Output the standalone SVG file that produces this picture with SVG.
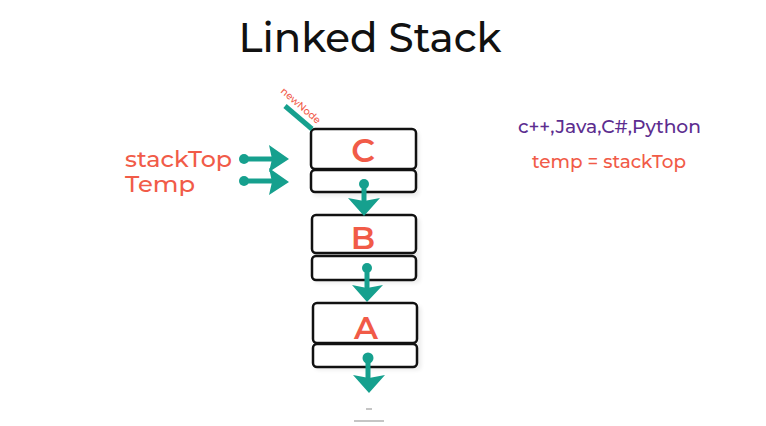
<svg xmlns="http://www.w3.org/2000/svg" width="766" height="426" viewBox="0 0 766 426">
<style>
.box{fill:#fff;stroke:#111;stroke-width:2.5}
.shadow{fill:#000;opacity:0.08}
.lbl{font-family:"Montserrat","Open Sans","Liberation Sans",sans-serif;fill:#f15b48;font-weight:500}
.big{font-weight:600}
.tl{fill:#16a08e}
.ts{stroke:#16a08e;stroke-width:5;fill:none}
</style>
<defs>
<filter id="sh" x="-10%" y="-10%" width="130%" height="140%"><feGaussianBlur stdDeviation="2"/></filter>
</defs>
<rect width="766" height="426" fill="#fff"/>
<text x="370" y="52" text-anchor="middle" font-family="Montserrat,'Open Sans','Liberation Sans',sans-serif" font-size="40" font-weight="500" fill="#111" textLength="263" lengthAdjust="spacingAndGlyphs">Linked Stack</text>

<g id="nodeC">
<rect class="shadow" filter="url(#sh)" x="313" y="132" width="106" height="64" rx="4"/>
<rect class="box" x="311" y="129" width="105" height="40" rx="4"/>
<rect class="box" x="311" y="170" width="105" height="22" rx="4"/>
<text class="lbl big" x="363" y="162" text-anchor="middle" font-size="33">C</text>
</g>
<g id="nodeB">
<rect class="shadow" filter="url(#sh)" x="314" y="218" width="106" height="65" rx="4"/>
<rect class="box" x="312" y="215" width="104" height="38" rx="4"/>
<rect class="box" x="312" y="256" width="104" height="24" rx="4"/>
<text class="lbl big" x="363" y="249" text-anchor="middle" font-size="32">B</text>
</g>
<g id="nodeA">
<rect class="shadow" filter="url(#sh)" x="315" y="306" width="106" height="64" rx="4"/>
<rect class="box" x="313" y="303" width="104" height="40" rx="4"/>
<rect class="box" x="313" y="344" width="104" height="23" rx="4"/>
<text class="lbl big" x="366" y="339" text-anchor="middle" font-size="32">A</text>
</g>

<g id="connectors">
<circle class="tl" cx="364" cy="184" r="5"/>
<line class="ts" x1="364" y1="184" x2="364" y2="202"/>
<path class="tl" d="M364 216 L348 198 L364 201 L380 198 Z"/>
<circle class="tl" cx="367" cy="268" r="5"/>
<line class="ts" x1="367" y1="268" x2="367" y2="290"/>
<path class="tl" d="M367 302 L352 285 L367 288 L383 285 Z"/>
<circle class="tl" cx="368" cy="358" r="5.5"/>
<line class="ts" x1="368" y1="358" x2="368" y2="380"/>
<path class="tl" d="M369 393 L353 375 L369 378 L385 375 Z"/>
<circle class="tl" cx="244" cy="159" r="5"/>
<line class="ts" x1="244" y1="159" x2="274" y2="159"/>
<path class="tl" d="M289 159 L269 145 L272 159 L269 172 Z"/>
<circle class="tl" cx="244" cy="181" r="5"/>
<line class="ts" x1="244" y1="181" x2="274" y2="181"/>
<path class="tl" d="M289 182 L269 168 L272 182 L269 195 Z"/>
<line class="ts" x1="285" y1="106" x2="312" y2="129" stroke-width="3"/>
</g>

<text class="lbl" x="125" y="167" font-size="22" textLength="107" lengthAdjust="spacingAndGlyphs">stackTop</text>
<text class="lbl" x="125" y="192" font-size="22" textLength="70" lengthAdjust="spacingAndGlyphs">Temp</text>
<text class="lbl" x="0" y="0" font-size="10" font-weight="400" transform="translate(280,92) rotate(41)">newNode</text>

<text x="518" y="133" font-family="Montserrat,'Open Sans','Liberation Sans',sans-serif" font-size="18" font-weight="500" fill="#5c2d8f" textLength="183" lengthAdjust="spacingAndGlyphs">c++,Java,C#,Python</text>
<text class="lbl" x="532" y="168" font-size="18" textLength="154" lengthAdjust="spacingAndGlyphs">temp = stackTop</text>

<g stroke="#777" stroke-width="1.2" opacity="0.7">
<line x1="366" y1="409" x2="372" y2="409"/>
<line x1="354" y1="421" x2="384" y2="421"/>
</g>
</svg>
